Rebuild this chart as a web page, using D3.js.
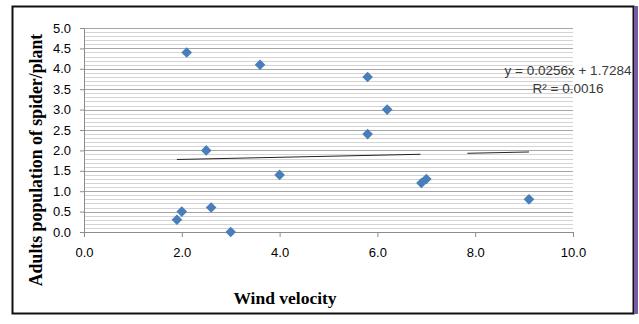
<!DOCTYPE html>
<html>
<head>
<meta charset="utf-8">
<script src="https://cdn.jsdelivr.net/npm/d3@7"></script>
<style>
body{margin:0;background:#fff}
svg{display:block}
</style>
</head>
<body>
<div id="container"></div>
<script>
// wind velocity vs adults per plant
var windVelocity = [2.1, 3.6, 5.8, 6.2, 5.8, 2.5, 4.0, 6.9, 7.0, 9.1, 2.6, 2.0, 1.9, 3.0]
var adults       = [4.4, 4.1, 3.8, 3.0, 2.4, 2.0, 1.4, 1.2, 1.3, 0.8, 0.6, 0.5, 0.3, 0.0]
var xTicks = [0, 2, 4, 6, 8, 10]
var yTicks = [0, 0.5, 1, 1.5, 2, 2.5, 3, 3.5, 4, 4.5, 5]
var yMinor = d3.range(0, 51).map(function(d){return d/10})
var slope = 0.0256, intercept = 1.7284
var trendSegments = [[1.9, 6.88], [7.84, 9.1]]
var eqLines = ["y = 0.0256x + 1.7284", "R² = 0.0016"]

var w = 639, h = 324
var svg = d3.select("#container").append("svg").attr("width",w).attr("height",h)

// frame
svg.append("rect").attr("x",12.5).attr("y",6.5).attr("width",621).attr("height",307)
  .attr("fill","none").attr("stroke","#111").attr("stroke-width",2)
svg.append("rect").attr("x",634).attr("y",6).attr("width",4).attr("height",308).attr("fill","#7a5aa0")

var xScale = d3.scaleLinear().domain([0,10]).range([84,573])
var yScale = d3.scaleLinear().domain([0,5]).range([232,28])

// gridlines
svg.append("g").selectAll("line").data(yMinor).enter().append("line")
  .attr("x1",xScale(0)).attr("x2",xScale(10))
  .attr("y1",function(d){return Math.round(yScale(d))+0.5})
  .attr("y2",function(d){return Math.round(yScale(d))+0.5})
  .attr("stroke",function(d){return Math.abs(d*2-Math.round(d*2))<1e-6 ? "#a6a6a6" : "#d4d4d4"})
  .attr("stroke-width",1)

// axes
var yAxis = d3.axisLeft(yScale).tickValues(yTicks).tickSize(4).tickSizeOuter(0).tickFormat(d3.format(".1f"))
var gy = svg.append("g").attr("transform","translate(84,0)").call(yAxis)
var xAxis = d3.axisBottom(xScale).tickValues(xTicks).tickSize(5).tickSizeOuter(0).tickFormat(d3.format(".1f"))
var gx = svg.append("g").attr("transform","translate(0,232)").call(xAxis)
;[gx,gy].forEach(function(g){
  g.select(".domain").attr("stroke","#8c8c8c")
  g.selectAll(".tick line").attr("stroke","#8c8c8c")
  g.selectAll("text").attr("font-family","Liberation Sans, Arial, sans-serif").attr("font-size",13).attr("fill","#000")
})
gy.selectAll("text").attr("x",-13)
gx.selectAll("text").attr("y",16)

// trendline
trendSegments.forEach(function(s){
  svg.append("line")
    .attr("x1",xScale(s[0])).attr("y1",yScale(slope*s[0]+intercept))
    .attr("x2",xScale(s[1])).attr("y2",yScale(slope*s[1]+intercept))
    .attr("stroke","#222").attr("stroke-width",1)
})

// points
var diamond = d3.symbol().type(d3.symbolDiamond2).size(72)
svg.append("g").selectAll("path").data(windVelocity).enter().append("path")
  .attr("d",diamond)
  .attr("transform",function(d,i){return "translate("+xScale(d)+","+yScale(adults[i])+")"})
  .attr("fill","#4a7ebb")

// equation
svg.append("g").selectAll("text").data(eqLines).enter().append("text")
  .attr("x",568).attr("y",function(d,i){return 75+i*18})
  .attr("text-anchor","middle")
  .attr("font-family","Liberation Sans, Arial, sans-serif").attr("font-size",13.5)
  .attr("fill","#3a3a3a")
  .text(function(d){return d})

// titles
svg.append("text").attr("x",285).attr("y",304).attr("text-anchor","middle")
  .attr("font-family","Liberation Serif, Times New Roman, serif").attr("font-weight","bold").attr("font-size",17.5)
  .text("Wind velocity")
svg.append("text").attr("transform","translate(42,160) rotate(-90)").attr("text-anchor","middle")
  .attr("font-family","Liberation Serif, Times New Roman, serif").attr("font-weight","bold").attr("font-size",17.8)
  .text("Adults population of spider/plant")
</script>
</body>
</html>
